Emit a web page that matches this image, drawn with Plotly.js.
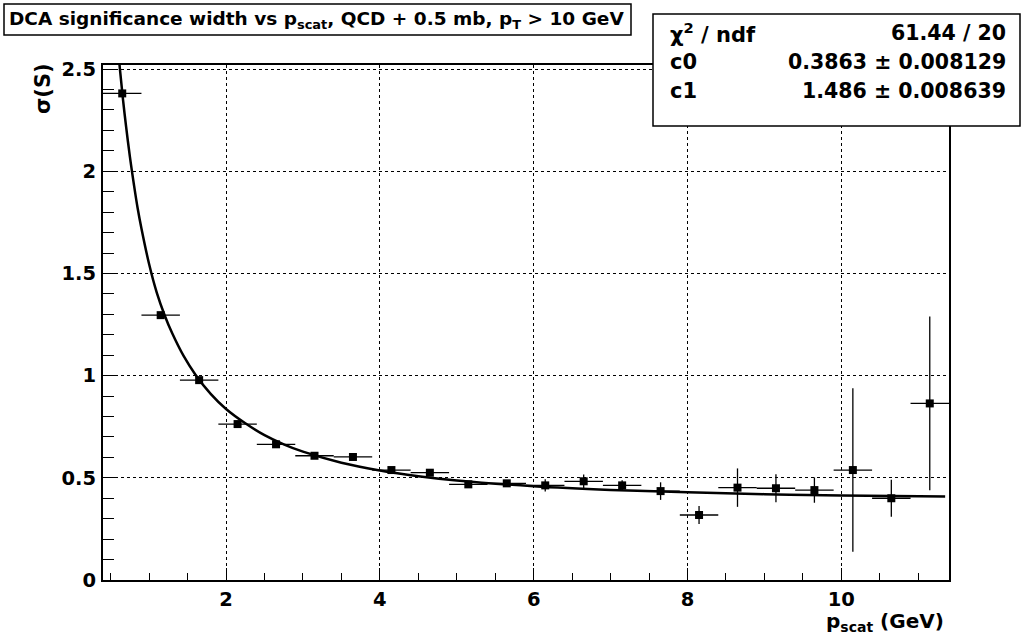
<!DOCTYPE html>
<html>
<head>
<meta charset="utf-8">
<script src="https://cdn.plot.ly/plotly-3.0.1.min.js"></script>
<style>html,body{margin:0;padding:0;background:#fff;}#chart{width:1026px;height:637px;}</style>
</head>
<body>
<div id="chart"></div>
<script>
// ---- data ----
const pScat = [0.65, 1.15, 1.65, 2.15, 2.65, 3.15, 3.65, 4.15, 4.65, 5.15, 5.65,
               6.15, 6.65, 7.15, 7.65, 8.15, 8.65, 9.15, 9.65, 10.15, 10.65, 11.15];
const sigmaS = [2.381, 1.296, 0.978, 0.763, 0.664, 0.608, 0.602, 0.538, 0.525, 0.468, 0.473,
                0.463, 0.483, 0.463, 0.435, 0.318, 0.452, 0.449, 0.440, 0.538, 0.400, 0.864];
const sigmaErr = [0.012, 0.010, 0.008, 0.008, 0.007, 0.008, 0.010, 0.010, 0.012, 0.012, 0.015,
                  0.030, 0.033, 0.025, 0.043, 0.044, 0.094, 0.068, 0.062, 0.400, 0.090, 0.425];
const binHalfWidth = [0.25, 0.25, 0.25, 0.25, 0.25, 0.25, 0.25, 0.25, 0.25, 0.25, 0.25,
                      0.25, 0.25, 0.25, 0.25, 0.25, 0.25, 0.25, 0.25, 0.25, 0.25, 0.25];
// fit curve
const fitX = [0.58, 0.62, 0.66, 0.70, 0.75, 0.80, 0.85, 0.90, 1.0, 1.1, 1.2, 1.3, 1.45, 1.6, 1.8,
              2.0, 2.25, 2.5, 2.75, 3.0, 3.5, 4.0, 4.5, 5.0, 6.0, 7.0, 8.0, 9.0, 10.0, 11.35];
const fitY = [2.66, 2.50, 2.35, 2.22, 2.07, 1.94, 1.82, 1.72, 1.545, 1.405, 1.297, 1.207, 1.095, 1.006, 0.911,
              0.837, 0.767, 0.709, 0.664, 0.628, 0.574, 0.536, 0.508, 0.487, 0.459, 0.441, 0.429, 0.420, 0.414, 0.408];
const xTickVals = [2, 4, 6, 8, 10];
const yTickVals = [0, 0.5, 1, 1.5, 2, 2.5];
const titleText = "DCA significance width vs p<sub>scat</sub>, QCD + 0.5 mb, p<sub>T</sub> > 10 GeV";
const statsLabels = ["χ<sup>2</sup> / ndf", "c0", "c1"];
const statsValues = ["61.44 / 20", "0.3863 ± 0.008129", "1.486 ± 0.008639"];
const xTitle = "p<sub>scat</sub> (GeV)";
const yTitle = "σ(S)";

// ---- layout helpers (pixel -> paper) ----
const L = 103, R = 949, T = 65, B = 580;
const px = x => (x - L) / (R - L);
const py = y => (B - y) / (B - T);
const FONT = "DejaVu Sans";

const traces = [
  {
    x: pScat, y: sigmaS, type: "scatter", mode: "markers",
    marker: {symbol: "square", size: 8, color: "black"},
    error_y: {type: "data", array: sigmaErr, visible: true, color: "black", thickness: 1.3, width: 0},
    error_x: {type: "data", array: binHalfWidth, visible: true, color: "black", thickness: 1.3, width: 0},
    hoverinfo: "skip"
  },
  {
    x: fitX, y: fitY, type: "scatter", mode: "lines",
    line: {color: "black", width: 2.5, shape: "spline", smoothing: 1},
    hoverinfo: "skip"
  }
];

const rowY = [33, 62, 91];
const annotations = [
  {text: titleText, xref: "paper", yref: "paper", x: px(316), y: py(20), xanchor: "center", yanchor: "middle",
   showarrow: false, font: {family: FONT, size: 18.5, weight: "bold", color: "black"}},
  {text: yTitle, xref: "paper", yref: "paper", x: px(43), y: py(88), xanchor: "center", yanchor: "middle",
   textangle: -90, showarrow: false, font: {family: FONT, size: 21, weight: "bold", color: "black"}},
  {text: xTitle, xref: "paper", yref: "paper", x: px(946), y: py(622), xanchor: "right", yanchor: "middle",
   showarrow: false, font: {family: FONT, size: 20, weight: "bold", color: "black"}}
];
statsLabels.forEach((t, i) => annotations.push({
  text: t, xref: "paper", yref: "paper", x: px(668), y: py(rowY[i]), xanchor: "left", yanchor: "middle",
  showarrow: false, font: {family: FONT, size: 21, weight: "bold", color: "black"}
}));
statsValues.forEach((t, i) => annotations.push({
  text: t, xref: "paper", yref: "paper", x: px(1008), y: py(rowY[i]), xanchor: "right", yanchor: "middle",
  showarrow: false, font: {family: FONT, size: 20.5, weight: "bold", color: "black"}
}));

const layout = {
  width: 1026, height: 637,
  margin: {l: L, r: 1026 - R, t: T, b: 637 - B, pad: 0},
  paper_bgcolor: "white", plot_bgcolor: "white",
  showlegend: false,
  xaxis: {
    range: [0.4, 11.4], tickvals: xTickVals, ticks: "inside", ticklen: 12, tickwidth: 1, tickcolor: "black",
    minor: {ticks: "inside", ticklen: 7, dtick: 0.5, tick0: 0, tickcolor: "black", showgrid: false},
    showline: true, linecolor: "black", linewidth: 2, mirror: true, zeroline: false,
    showgrid: true, gridcolor: "black", griddash: "dot", gridwidth: 1,
    tickfont: {family: FONT, size: 19.5, weight: "bold", color: "black"}, ticklabelstandoff: 1
  },
  yaxis: {
    range: [0, 2.52], tickvals: yTickVals, ticks: "inside", ticklen: 14, tickwidth: 1, tickcolor: "black",
    minor: {ticks: "inside", ticklen: 11, dtick: 0.1, tick0: 0, tickcolor: "black", showgrid: false},
    showline: true, linecolor: "black", linewidth: 2, mirror: true, zeroline: false,
    showgrid: true, gridcolor: "black", griddash: "dot", gridwidth: 1,
    tickfont: {family: FONT, size: 19.5, weight: "bold", color: "black"}, ticklabelstandoff: 1
  },
  shapes: [
    {type: "rect", xref: "paper", yref: "paper", x0: px(4), x1: px(631), y0: py(35), y1: py(4),
     line: {color: "black", width: 1.5}, fillcolor: "white", layer: "above"},
    {type: "rect", xref: "paper", yref: "paper", x0: px(653), x1: px(1020), y0: py(126), y1: py(14),
     line: {color: "black", width: 1.5}, fillcolor: "white", layer: "above"}
  ],
  annotations: annotations
};

Plotly.newPlot("chart", traces, layout, {displayModeBar: false, staticPlot: true});
</script>
</body>
</html>
